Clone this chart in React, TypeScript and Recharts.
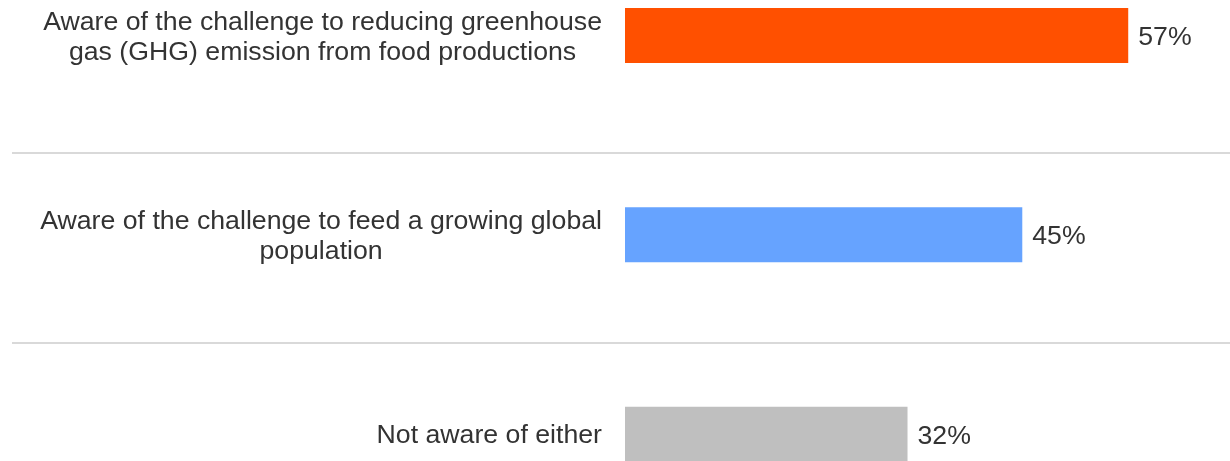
import React from 'react'
import { BarChart, Bar, XAxis, YAxis, Cell, LabelList } from 'recharts'

const categories = [
  'Aware of the challenge to reducing greenhouse\ngas (GHG) emission from food productions',
  'Aware of the challenge to feed a growing global\npopulation',
  'Not aware of either',
]
const values = [57, 45, 32]
const barColors = ['#FF5000', '#66A3FF', '#BFBFBF']

const data = categories.map((name, i) => ({ name, value: values[i] }))

const FONT = '"Liberation Sans", Arial, sans-serif'
const TEXT = '#333333'

const CategoryTick = (props: any) => {
  const { x, y, payload } = props
  const right = x - 15
  const w = 600
  return (
    <foreignObject x={right - w} y={y - 60} width={w} height={120}>
      <div
        style={{
          width: w,
          height: 120,
          display: 'flex',
          alignItems: 'center',
          justifyContent: 'flex-end',
        }}
      >
        <div
          style={{
            fontFamily: FONT,
            fontSize: 26.7,
            lineHeight: '30px',
            color: TEXT,
            textAlign: 'center',
            whiteSpace: 'pre-line',
          }}
        >
          {payload.value}
        </div>
      </div>
    </foreignObject>
  )
}

const Separator = ({ top }: { top: number }) => (
  <div style={{ position: 'absolute', left: 12, top, width: 1218, height: 2, background: '#D9D9D9' }} />
)

export default function App() {
  return (
    <div style={{ position: 'fixed', top: 0, left: 0, width: 1230, height: 461 }}>
      <BarChart
        layout='vertical'
        width={1230}
        height={461}
        data={data}
        margin={{ top: -64, right: -13, bottom: -73, left: 0 }}
      >
        <XAxis type='number' domain={[0, 70]} hide />
        <YAxis
          type='category'
          dataKey='name'
          width={625}
          axisLine={false}
          tickLine={false}
          tick={<CategoryTick />}
          interval={0}
        />
        <Bar dataKey='value' barSize={55} isAnimationActive={false}>
          {data.map((d, i) => (
            <Cell key={d.name} fill={barColors[i]} />
          ))}
          <LabelList
            dataKey='value'
            position='right'
            offset={10}
            formatter={(v: any) => `${v}%`}
            style={{ fontFamily: FONT, fontSize: 26.7, fill: TEXT }}
          />
        </Bar>
      </BarChart>
      <Separator top={152} />
      <Separator top={342} />
    </div>
  )
}
